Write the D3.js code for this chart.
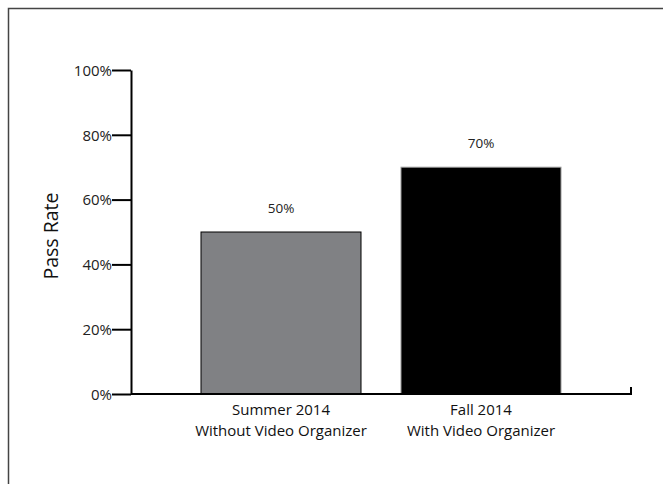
<!DOCTYPE html>
<html><head><meta charset="utf-8">
<script src="https://cdn.jsdelivr.net/npm/d3@7"></script>
<style>html,body{margin:0;padding:0;background:#fff;}svg{display:block;}</style>
</head><body>
<script>
const categories = ["Summer 2014\nWithout Video Organizer", "Fall 2014\nWith Video Organizer"];
const values = [50, 70];
const valueLabels = ["50%", "70%"];
const barColors = ["#808184", "#000000"];
const barStrokes = ["#000000", "#9a9a9a"];
const yTicks = [0, 20, 40, 60, 80, 100];
const yTitle = "Pass Rate";

const W = 663, H = 484;
const svg = d3.select("body").append("svg").attr("width", W).attr("height", H);
const font = "'Open Sans', 'Noto Sans', sans-serif";

// frame
svg.append("rect").attr("x", 8.5).attr("y", 8.5).attr("width", W + 20).attr("height", H + 20)
  .attr("fill", "none").attr("stroke", "#444").attr("stroke-width", 1.5);

const x0 = 131, x1 = 631, yTop = 70, yBot = 394;
const x = d3.scaleBand().domain(categories).range([x0, x1]).paddingInner(0.2).paddingOuter(0.35);
const y = d3.scaleLinear().domain([0, 100]).range([yBot, yTop]);

// y axis
const yAxis = d3.axisLeft(y).tickValues(yTicks).tickSize(19).tickSizeOuter(0).tickPadding(0)
  .tickFormat(d => d + "%");
const gy = svg.append("g").attr("transform", `translate(${x0},0)`).call(yAxis);
gy.select(".domain").attr("stroke", "#000").attr("stroke-width", 2);
gy.selectAll(".tick line").attr("stroke", "#000").attr("stroke-width", 2);
gy.selectAll(".tick text").attr("font-family", font).attr("font-size", 15).attr("fill", "#222")
  .attr("dx", 0).attr("dy", "0.35em");

// bars
svg.selectAll("rect.bar").data(values).join("rect").attr("class", "bar")
  .attr("x", (d, i) => x(categories[i]))
  .attr("y", d => y(d))
  .attr("width", x.bandwidth())
  .attr("height", d => y(0) - y(d))
  .attr("fill", (d, i) => barColors[i])
  .attr("stroke", (d, i) => barStrokes[i]).attr("stroke-width", 1);

// x axis line with end tick
svg.append("path").attr("d", `M${x0},${yBot}H${x1}V${yBot - 7}`)
  .attr("fill", "none").attr("stroke", "#000").attr("stroke-width", 2);

// value labels
svg.selectAll("text.val").data(values).join("text").attr("class", "val")
  .attr("x", (d, i) => x(categories[i]) + x.bandwidth() / 2)
  .attr("y", d => y(d) - 19)
  .attr("text-anchor", "middle").attr("font-family", font).attr("font-size", 13.5).attr("fill", "#222")
  .text((d, i) => valueLabels[i]);

// category labels (two lines each)
categories.forEach(c => {
  c.split("\n").forEach((line, j) => {
    svg.append("text").attr("text-anchor", "middle").attr("font-family", font)
      .attr("font-size", 15).attr("fill", "#111")
      .attr("x", x(c) + x.bandwidth() / 2).attr("y", 415 + j * 21).text(line);
  });
});

// y title
svg.append("text").attr("transform", `translate(58,236) rotate(-90)`)
  .attr("text-anchor", "middle").attr("font-family", font).attr("font-size", 19.5).attr("fill", "#111")
  .text(yTitle);
</script>
</body></html>
